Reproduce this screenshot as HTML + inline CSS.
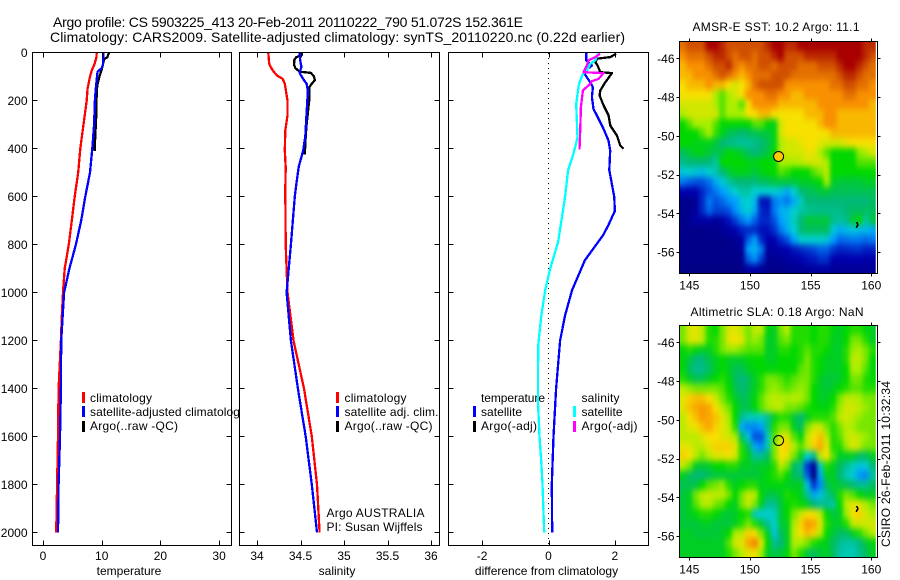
<!DOCTYPE html>
<html>
<head>
<meta charset="utf-8">
<title>Argo profile chart</title>
<style>
html,body{margin:0;padding:0;background:#fff;}
svg{display:block;}
text{font-family:"Liberation Sans",sans-serif;font-size:12px;fill:#000;}
.t14{font-size:14px;}
</style>
</head>
<body>
<svg id="chart" width="900" height="580" viewBox="0 0 900 580" xmlns="http://www.w3.org/2000/svg">
  <defs>
    <filter id="soften" x="-10%" y="-10%" width="120%" height="120%" color-interpolation-filters="sRGB">
      <feGaussianBlur stdDeviation="2.2 3.2"/>
    </filter>
  </defs>
  <rect x="0" y="0" width="900" height="580" fill="#fff"/>
  <text class="t14" x="53" y="27" textLength="470">Argo profile: CS 5903225_413 20-Feb-2011 20110222_790 51.072S 152.361E</text>
  <text class="t14" x="50" y="42" textLength="575">Climatology: CARS2009. Satellite-adjusted climatology: synTS_20110220.nc (0.22d earlier)</text>

  <g id="p1">
    <rect x="32.5" y="52.5" width="199" height="493" fill="#fff"/>
    <g id="p1marks"></g>
    <g>
      <rect x="82" y="392" width="3" height="11" fill="#f00"/>
      <text x="90" y="402" textLength="62">climatology</text>
      <rect x="82" y="406" width="3" height="11" fill="#00f"/>
      <text x="90" y="416" textLength="156">satellite-adjusted climatology</text>
      <rect x="82" y="421" width="3" height="11" fill="#000"/>
      <text x="90" y="430" textLength="88">Argo(..raw -QC)</text>
    </g>
    <g id="p1axis"></g>
    <text x="129" y="575" text-anchor="middle">temperature</text>
  </g>

  <g id="p2">
    <rect x="239.5" y="52.5" width="200" height="493" fill="#fff"/>
    <g id="p2marks"></g>
    <g>
      <rect x="336" y="392" width="3" height="11" fill="#f00"/>
      <text x="344.5" y="402" textLength="62">climatology</text>
      <rect x="336" y="406" width="3" height="11" fill="#00f"/>
      <text x="344.5" y="416" textLength="94">satellite adj. clim.</text>
      <rect x="336" y="421" width="3" height="11" fill="#000"/>
      <text x="344.5" y="430" textLength="88">Argo(..raw -QC)</text>
      <text x="326.5" y="517" textLength="98">Argo AUSTRALIA</text>
      <text x="326.5" y="531" textLength="96">PI: Susan Wijffels</text>
    </g>
    <g id="p2axis"></g>
    <text x="337" y="575" text-anchor="middle">salinity</text>
  </g>

  <g id="p3">
    <rect x="448.5" y="52.5" width="200" height="493" fill="#fff"/>
    <g>
      <text x="481" y="402" textLength="64">temperature</text>
      <rect x="473" y="406" width="3" height="11" fill="#00f"/>
      <text x="481" y="416" textLength="41">satellite</text>
      <rect x="473" y="421" width="3" height="11" fill="#000"/>
      <text x="481" y="430" textLength="56">Argo(-adj)</text>
      <text x="581.5" y="402" textLength="38">salinity</text>
      <rect x="573" y="406" width="3" height="11" fill="#0ff"/>
      <text x="581.5" y="416" textLength="41">satellite</text>
      <rect x="573" y="421" width="3" height="11" fill="#f0f"/>
      <text x="581.5" y="430" textLength="56">Argo(-adj)</text>
    </g>
    <g id="p3marks"></g>
    <g id="p3axis"></g>
    <text x="546.5" y="575" text-anchor="middle">difference from climatology</text>
  </g>

  <text x="776" y="31" text-anchor="middle" textLength="167">AMSR-E SST: 10.2 Argo: 11.1</text>
  <g id="m1"></g>
  <text x="777" y="316" text-anchor="middle" textLength="173">Altimetric SLA: 0.18 Argo: NaN</text>
  <g id="m2"></g>
  <text transform="translate(890,547) rotate(-90)" x="0" y="0" textLength="166">CSIRO 26-Feb-2011 10:32:34</text>
</svg>

<script>
// ---- shared ticks ----
var depthTicks = [0,200,400,600,800,1000,1200,1400,1600,1800,2000];
var tempTicks = [0,10,20,30];
var salTicks = [34,34.5,35,35.5,36];
var diffTicks = [-2,0,2];
var lonTicks = [145,150,155,160];
var latTicks = [-46,-48,-50,-52,-54,-56];

// ---- temperature panel ----
var tempClimDepth = [0,20,50,75,100,150,200,300,400,500,600,700,800,900,1000,1100,1200,1400,1600,1800,2000];
var tempClim = [9.15,9.1,8.75,8.3,8.0,7.6,7.45,6.9,6.35,6.0,5.4,4.9,4.4,3.7,3.4,3.2,3.05,2.65,2.55,2.4,2.25];
var tempSatDepth = [0,20,50,65,80,100,150,200,300,400,500,600,700,800,900,1000,1200,1400,1600,1800,2000];
var tempSat = [10.3,10.25,10.2,10,9.3,9.2,9,8.85,8.7,8.4,8,7.2,6.5,5.6,4.5,3.6,3.1,3.05,2.9,2.65,2.55];
var tempArgoDepth = [0,20,25,30,50,75,100,130,160,250,300,400,410];
var tempArgo = [11.25,10.95,10.6,10.4,10.2,9.95,9.6,9.3,9.15,9.1,9,8.8,8.8];

// ---- salinity panel ----
var salClimDepth = [0,48,75,96,110,130,200,262,325,408,478,575,800,1000,1200,1400,1600,1800,2000];
var salClim = [34.13,34.14,34.18,34.23,34.295,34.32,34.35,34.35,34.325,34.32,34.33,34.325,34.33,34.35,34.42,34.54,34.63,34.69,34.72];
var salSatDepth = [0,30,60,85,110,130,160,250,350,410,475,540,600,800,1000,1200,1400,1600,1800,2000];
var salSat = [34.49,34.495,34.51,34.49,34.53,34.57,34.585,34.57,34.555,34.53,34.48,34.455,34.435,34.39,34.34,34.39,34.47,34.56,34.63,34.69];
var salArgoDepth = [0,10,20,30,50,65,80,85,100,115,130,145,200,250,300,350,425];
var salArgo = [34.52,34.515,34.45,34.43,34.425,34.44,34.49,34.62,34.655,34.665,34.63,34.6,34.6,34.585,34.57,34.56,34.55];

// ---- difference panel ----
var diffTempSatDepth = [0,33,54,82,124,144,186,235,276,318,367,408,490,600,660,720,760,865,990,1095,1200,1400,1600,1800,2000];
var diffTempSat = [1.135,1.135,1.306,1.055,1.256,1.336,1.306,1.356,1.507,1.657,1.808,1.858,1.83,1.98,2.0,1.8,1.65,1.1,0.71,0.5,0.35,0.23,0.15,0.1,0.11];
var diffTempArgoDepth = [5,19,26,40,54,82,86,124,158,179,221,262,304,346,387,401];
var diffTempArgo = [2.04,1.86,1.46,1.41,1.48,1.56,1.91,1.71,1.56,1.54,1.66,1.81,1.86,2.06,2.16,2.26];
var diffSalSatDepth = [3,33,47,75,89,124,144,214,290,353,394,443,490,600,790,900,990,1100,1220,1450,1600,1700,1800,2000];
var diffSalSat = [1.507,1.407,1.256,1.156,1.035,0.935,0.905,0.834,0.854,0.875,0.804,0.704,0.59,0.5,0.29,0.05,-0.1,-0.22,-0.31,-0.32,-0.27,-0.22,-0.18,-0.13];
var diffSalArgoDepth = [5,19,33,54,82,86,110,119,131,158,228,325,405];
var diffSalArgo = [1.557,1.407,1.206,1.156,1.055,1.657,1.507,1.306,1.256,1.035,0.975,0.955,0.935];

// ---- maps: values on a 0..11 colour-level scale, north to south, west to east ----
var sstValues = [
[9.5,10,10,10,11,11,10.5,10,10,10,10,10,10,10.5,11,11,10.5,10.5,11,11,11,11,11,11,11,11,11,11,10.5,10.5],
[9,9.5,9.5,9.5,10,10.5,10.5,10,9.5,10,10,9.5,10,10,10.5,11,10,10,10,10.5,10.5,10.5,10.5,10.5,11,11,11,11,10.5,10],
[8.5,9,9,9,9.5,10,10,10.5,9.5,9,9.5,9.5,10,10,9.5,10,10,10,9.5,9.5,9.5,10,10,10,10.5,11,11,10.5,10,9.5],
[8.5,8.5,9,9,9,9.5,10,9.5,9,8.5,9,9.5,9.5,9.5,10,10,10,9.5,9.5,9.5,9.5,9.5,9.5,9.5,10,10.5,10.5,10,9.5,9.5],
[8,8.5,8.5,8.5,9,8.5,8.5,8,7.5,8,8.5,9.5,10,10,10,10,9,9,9,9,9,9,9,9.5,9.5,10,10,9.5,9.5,9],
[8,8,8,8,8,7,6.5,7,7.5,8,9,9,9,9.5,9.5,9,9,8.5,8.5,9,9,9,9,9,9,9.5,9.5,9,9,9],
[7.5,7.5,7.5,7.5,7.5,7,6.5,7,7,6.5,8,9,9,9,9,8.5,8.5,8.5,8.5,8.5,8.5,9,9,9,9,9,9,9,9,8.5],
[7,7.5,7.5,7.5,7.5,7.5,6.5,7,7,7,8,8,8.5,8.5,8,8,8,8,8,8.5,8.5,8.5,9,9,8.5,8.5,8.5,8.5,8.5,8.5],
[6,6.5,7,7,7,6.5,6,6,6,6,6,6.5,6.5,6,5.8,7.5,8,8,8,8,8,8.5,9,9,8.5,8.5,8.5,8.5,8.5,8.5],
[6,6,6,6.5,7,6.3,5.8,5.3,5.2,5,5.2,5.3,5.5,5.5,5.8,7.5,8,8,8,8,8,8,8,8.5,8.5,8.5,8.5,8.5,8.5,8.5],
[6,6,5.8,5.8,5.8,5.5,5,4.8,4.7,4.6,4.6,4.8,5,5.3,5.8,7,7.5,7.5,7.8,8,8,7.7,7.5,7.5,7.5,7.8,8,8,8,8],
[5.2,5.5,5.8,5.8,5.5,5.3,5.5,6,5.8,5.6,5.2,5,5.2,5.5,6,7.2,7.5,7.5,7.5,7.8,7.8,7,6.5,6,6,6,6,6.8,7,7.5],
[4.8,5,5,5,5,4.5,6,6,6,6,5.8,5.8,6,6,6,7,7,7,7.2,7.5,7.5,7.5,7,6,6,6,6,6.5,6.5,6.5],
[3.8,4,3.8,3.6,4,4.4,5,5.5,5.8,5.8,5.8,5.5,5.8,6,6,6.5,6.3,6,6,6,6.5,6.8,7.2,6,6,6,6,6,6,6],
[2.5,2.2,2,2,2.4,3.2,3.8,4.5,5,5,5,5,5.2,5.2,5.5,5.5,5.5,5.5,5.7,5.7,5.8,6,7,5.7,5.5,5.5,5.5,5.5,5.7,5.7],
[1,1,1,1.5,2,2.5,3,3.5,4,4.5,4.5,4,4,4,4,3.7,3.2,4,5,5.2,5.3,5.5,5.6,5.3,5.3,5.3,5.3,5.3,5.3,5.3],
[0.3,0.3,0.5,1.5,2.5,2,2.3,2.8,3,3.8,4,3.5,1.2,1.2,2.5,2.8,2.5,3.2,4.2,5,5,5,5,5,5,5,5,5,5,5.2],
[0.3,0.3,0.5,1.5,2.3,1.8,1.8,2,2.8,3.5,4,3.2,1.5,1.3,2.5,3.3,3.5,4,4.5,4.6,4.8,4.8,4.8,4.8,4.8,5,5.2,5.2,5.2,5.2],
[0.2,0.5,0.8,0.8,0.8,0.5,0.8,1.2,1.8,2.5,3,2.2,1.5,1.5,2,3,3.5,4.2,5,5.5,5.5,5.5,5.5,4.8,4.6,4.8,5.5,6,4.5,5.5],
[0.2,0.2,0.2,0.2,0.2,0.3,0.5,0.6,1,1.4,1.5,1.5,1.2,1.2,1.6,2.5,3.2,4,5,5.2,5.2,5.2,5.2,3.8,3.3,3.5,3.8,3.5,3.5,3.2],
[0.2,0.2,0.2,0.2,0.2,0.2,0.2,0.3,0.4,0.7,2.2,3,1.5,0.9,1,1.5,2,3,4,4,4,4,3.8,3,2.3,2.4,2.5,2.5,2.3,2.5],
[0.2,0.2,0.2,0.2,0.2,0.2,0.2,0.2,0.3,0.5,3,3.4,2.6,0.6,0.7,0.8,1,1.3,1.5,1.7,1.9,2.2,2.2,1.7,1.4,1.5,1.6,1.6,1.4,1.4],
[0.2,0.2,0.2,0.2,0.2,0.2,0.2,0.2,0.2,0.3,2.2,2.8,1.8,0.4,0.4,0.5,0.7,0.8,1,1.2,1.3,1.6,1.6,1,0.9,0.9,1,1,0.9,0.9],
[0.1,0.1,0.1,0.1,0.1,0.1,0.1,0.1,0.1,0.2,0.6,0.8,0.5,0.2,0.2,0.2,0.3,0.4,0.5,0.5,0.6,0.7,0.7,0.5,0.5,0.5,0.5,0.5,0.5,0.5]
];
var slaValues = [
[6.7,7.5,7.7,7.2,6.2,6,6.7,7.5,7.7,7.2,6.7,7.2,7.2,5.9,5.7,6.7,7.2,6.2,6.2,6.2,6,6.2,6.2,5.9,5.7,6,6.2,6.2,5.9,5.7],
[6.7,7.5,7.7,7.2,6.2,6.2,6.7,7.7,8,7.7,6.7,6.9,6.7,5.7,5.7,6.5,6.7,6.2,6.2,6.2,6,6.2,6.2,5.7,5.7,6,6.7,6.7,6.2,5.7],
[5.9,6.2,5.9,5.7,5.7,6.2,6.7,6.9,6.9,6.7,6.5,6.5,6.5,5.7,5.7,6.2,6.2,6,6.2,6.5,6.2,6.2,6,5.7,5.7,6.2,6.9,7,6.7,6.2],
[5.9,5.5,5,4.9,5.4,5.7,6,5.7,5.7,5.7,5.9,6,6,5.7,5.7,6,6,6,6.2,6.7,6.2,6,5.7,5.7,5.7,6.2,7.2,7.2,6.7,6],
[6,5.2,4.8,4.8,5.2,5.7,6,5.7,5.3,5.3,5.7,5.9,6,5.9,5.9,6,6,6,6.5,6.7,6.2,6,5.7,5.7,5.7,6,7,7,6.5,5.9],
[6.2,5.7,5.3,5.3,5.7,6,6.2,5.9,5.2,4.9,5.2,5.7,6.2,6.7,6.7,6.5,6.2,6.5,6.7,6.7,6.2,5.7,5.5,5.5,5.7,6,6.7,6.7,6.2,6],
[7.2,6.9,6.7,6.7,6.7,6.7,6.5,6,5.4,5,5.3,5.7,6.2,6.7,6.9,6.7,6.5,6.7,6.9,6.7,6,5.7,5.5,5.7,6,6.2,6.5,6.5,6.2,6.2],
[7.7,8.2,8.4,8.4,8,7.4,6.7,6.2,5.7,5.2,5.4,5.9,6.5,7,7.2,7.2,7,7.2,7,6.7,6,5.7,5.7,6,6.7,7.2,7.2,7,6.7,6.7],
[7.7,8.4,8.7,8.9,8.7,8,7.2,6.7,6,5.4,5.4,5.9,6.5,6.9,7.2,7.2,6.7,6.7,6.5,6.2,6,5.9,5.9,6.2,6.9,7.5,7.5,7.2,6.9,6.7],
[7.2,8,8.4,8.9,8.7,8.4,7.7,7,6,4.7,4.2,4.2,4.2,4.7,5.7,6.2,6.2,5.5,5,5.7,6.2,6.2,6.2,6.5,7.2,7.5,7.2,6.9,6.7,6.7],
[7.2,7.7,7.9,8.4,8.7,8.2,7.7,7.2,6.2,3.2,2.7,2.7,3,4.7,6.2,6.7,6.7,5.7,5.2,6.7,7.4,7.5,6.7,6.2,6.7,7.2,7,6.7,6.7,6.7],
[7.2,7.2,7.2,7.7,8,8,7.7,7.5,7,5.2,3.7,2,2,4.2,6.5,7.5,7.7,6.5,5.9,7.2,8,8.4,7.2,6.2,6.5,7.2,7.5,7.2,6.9,6.7],
[7.7,7.7,7.2,7.2,7.7,8.2,8.2,8.2,7.7,6.2,5.2,3.2,2.7,4.4,6.7,8,8.2,7.2,6.5,7.2,8.2,8.7,7.7,6.2,6.2,6.9,7.7,7.2,6.7,6.7],
[8.2,8,7.2,6.7,7.2,7.7,7.7,7.9,7.5,6.2,5.7,4.7,4.7,5.2,6.7,8,7.7,6.7,5.7,4,4.7,7.2,8,6.5,5.7,5.7,5.7,5.2,5.2,5.7],
[7.2,6.7,5.7,5.5,5.7,6,6,6.2,6.2,5.7,5.7,5.5,5.7,5.7,6.2,7.2,6.7,5.2,4.7,1.7,0.7,4.2,6.2,5.7,5.2,4.7,4.2,3.7,3.9,5],
[5.7,5.3,5,5,5.2,5.5,5.5,5.5,5.5,5.5,5.5,5.5,5.7,5.9,6.2,6.5,6,5.2,5,2.2,0,3.2,5.7,5.7,5,4.3,3.9,2.9,2.7,4.5],
[5.3,5.3,5.4,6,6.5,6.7,6.9,6.2,5.7,6,6.2,6.2,5.7,5.9,5.9,5.9,5.7,5.7,5.7,3.7,1.7,2.7,5.2,5.7,5.5,5.3,5,4.7,4.7,5.2],
[5.5,5.7,6.7,7.2,7.4,7.2,7.2,6.7,6,6.7,7.4,7.2,6,5.4,5.4,5.7,6.2,6,5.7,4.7,3.2,3.7,4.7,5.3,6.2,6.7,6.5,6,5.7,5.7],
[5.5,5.7,6.5,7,7.2,6.7,6.5,6,5.7,6.7,7.4,6.7,5.7,4.7,4.7,5.5,6,6.2,6,5.7,5,4.7,4.7,4.5,6,7.2,7.7,7.7,7,6.7],
[5.5,5.7,5.9,6.2,6.2,6,5.7,5.5,5.7,6,6.2,4.3,3.9,4,4.2,5.5,6,6.7,7.4,8,8,7.2,6,5.5,5.7,6.9,7.9,8.2,7.5,7],
[5.5,5.5,5.5,5.7,5.7,5.5,5.5,5.5,5.7,6.2,6.7,6.2,5.5,4.7,4,5.5,5.7,7,8.2,8.9,8.7,7.7,6.2,5.7,5.7,6.2,7.2,7.5,7.5,7.5],
[5.7,5.7,5.5,5.5,5.5,5.5,5.7,6,7,7.2,8.2,8,6.7,5.7,3.7,5.2,5.7,7.2,8,8.5,8.2,7.2,6,5.5,5.2,5.2,5.7,6.2,6.7,7.2],
[5.7,5.7,5.7,5.7,5.7,5.7,5.7,6.5,7.5,7.7,8.7,9.2,7.7,6,4.7,5,5.7,7,7,6.7,6.2,5.9,5.7,5.2,4.7,4.5,4.5,4.9,5.5,5.9],
[5.7,5.7,5.7,5.7,5.7,5.7,5.7,6.2,6.7,7.2,7.7,7.9,6.9,5.7,5.4,5.5,5.9,6.7,6.2,5.5,5.2,5.5,5.7,5.2,4.5,4.3,4.3,4.7,5.2,5.7]
];
var trackLon = [158.75,158.9,158.8];
var trackLat = [-54.75,-54.6,-54.45];
var profileLon = [152.361];
var profileLat = [-51.072];

var NS = 'http://www.w3.org/2000/svg';
function make(parent, tag, attrs, txt) {
  var el = document.createElementNS(NS, tag);
  for (var k in attrs) el.setAttribute(k, attrs[k]);
  if (txt !== undefined) el.textContent = txt;
  parent.appendChild(el);
  return el;
}
var TOP = 52.5, BOT = 545.5;
function yDepth(d) { return 52.5 + 0.24 * d; }
function linear(v0, px0, scale) { return function (v) { return px0 + (v - v0) * scale; }; }
var xTemp = linear(0, 43, 5.87);
var xSal = linear(34, 257, 87);
var xDiff = linear(0, 548.5, 33.2);

function series(group, depths, vals, xf, color, name) {
  var pts = [];
  for (var i = 0; i < vals.length; i++) pts.push(xf(vals[i]).toFixed(1) + ',' + yDepth(depths[i]).toFixed(1));
  var line = make(group, 'polyline', {points: pts.join(' '), fill: 'none', stroke: color, 'stroke-width': 2.3, 'shape-rendering': 'crispEdges', 'stroke-linejoin': 'round'});
  
  
}
function axes(group, left, right, xf, ticks, showDepthLabels) {
  var frame = make(group, 'rect', {x: left, y: TOP, width: right - left, height: BOT - TOP, fill: 'none', stroke: '#000', 'stroke-width': 1, 'shape-rendering': 'crispEdges'});
  
  
  ticks.forEach(function (t) {
    var x = Math.round(xf(t)) + 0.5;
    var tk = make(group, 'path', {d: 'M' + x + ' ' + TOP + 'v5M' + x + ' ' + BOT + 'v-5', stroke: '#000', 'stroke-width': 1, fill: 'none', 'shape-rendering': 'crispEdges'});
    
    
    var lb = make(group, 'text', {x: xf(t), y: 560, 'text-anchor': 'middle'}, String(t));
    
    
  });
  depthTicks.forEach(function (d) {
    var y = Math.round(yDepth(d) - 0.5) + 0.5;
    var tk = make(group, 'path', {d: 'M' + left + ' ' + y + 'h5M' + right + ' ' + y + 'h-5', stroke: '#000', 'stroke-width': 1, fill: 'none', 'shape-rendering': 'crispEdges'});
    
    
    if (showDepthLabels) {
      var lb = make(group, 'text', {x: 27.5, y: yDepth(d) + 4.5, 'text-anchor': 'end'}, String(d));
      
      
    }
  });
}

var g1 = document.getElementById('p1marks');
series(g1, tempArgoDepth, tempArgo, xTemp, '#000', 'temperature-argo-line');
series(g1, tempClimDepth, tempClim, xTemp, '#f00', 'temperature-climatology-line');
series(g1, tempSatDepth, tempSat, xTemp, '#00f', 'temperature-satellite-line');
axes(document.getElementById('p1axis'), 32.5, 231.5, xTemp, tempTicks, true);

var g2 = document.getElementById('p2marks');
series(g2, salArgoDepth, salArgo, xSal, '#000', 'salinity-argo-line');
series(g2, salClimDepth, salClim, xSal, '#f00', 'salinity-climatology-line');
series(g2, salSatDepth, salSat, xSal, '#00f', 'salinity-satellite-line');
axes(document.getElementById('p2axis'), 239.5, 439.5, xSal, salTicks, false);

var g3 = document.getElementById('p3marks');
var zero = make(g3, 'line', {x1: xDiff(0), x2: xDiff(0), y1: 53, y2: BOT, stroke: '#000', 'stroke-width': 1, 'stroke-dasharray': '1 4', 'shape-rendering': 'crispEdges'});


series(g3, diffTempSatDepth, diffTempSat, xDiff, '#00f', 'temperature-satellite-difference-line');
series(g3, diffTempArgoDepth, diffTempArgo, xDiff, '#000', 'temperature-argo-difference-line');
series(g3, diffSalSatDepth, diffSalSat, xDiff, '#0ff', 'salinity-satellite-difference-line');
series(g3, diffSalArgoDepth, diffSalArgo, xDiff, '#f0f', 'salinity-argo-difference-line');
axes(document.getElementById('p3axis'), 448.5, 648.5, xDiff, diffTicks, false);

// ---- colour ramp ----
var rampStops = [[0,0,128],[0,0,176],[0,80,224],[0,160,255],[0,208,208],[0,184,120],[0,216,0],[170,238,0],[248,224,0],[248,144,0],[208,80,0],[168,0,0]];
function levelColor(v) {
  var a = Math.max(0, Math.min(10.999, v));
  var i = Math.floor(a), f = a - i;
  var c0 = rampStops[i], c1 = rampStops[i + 1];
  return 'rgb(' + [0, 1, 2].map(function (k) { return Math.round(c0[k] + (c1[k] - c0[k]) * f); }).join(',') + ')';
}

function drawMap(groupId, values, frameTop, lat46Y, markerFill, prefix) {
  var g = document.getElementById(groupId);
  var frameLeft = 679.5, frameRight = 877.5, frameH = 232;
  var xLon = linear(145, 689.3, 12.13);
  var yLat = linear(-46, lat46Y, -19.37);
  var lonW = 144.2, lonE = 160.37;
  var latN = -46 + (lat46Y - frameTop) / 19.37, latS = latN - frameH / 19.37;
  var rows = values.length, cols = values[0].length;
  var clipId = prefix + '-clip';
  var clip = make(g, 'clipPath', {id: clipId});
  make(clip, 'rect', {x: xLon(lonW), y: frameTop, width: xLon(lonE) - xLon(lonW), height: frameH});
  var clipper = make(g, 'g', {'clip-path': 'url(#' + clipId + ')'});
  
  
  var cells = make(clipper, 'g', {filter: 'url(#soften)', 'shape-rendering': 'crispEdges'});
  
  
  values.forEach(function (row, j) {
    row.forEach(function (v, i) {
      var x0 = xLon(lonW + (lonE - lonW) * i / cols), x1 = xLon(lonW + (lonE - lonW) * (i + 1) / cols);
      var y0 = yLat(latN + (latS - latN) * j / rows), y1 = yLat(latN + (latS - latN) * (j + 1) / rows);
      if (i === 0) x0 -= 14;
      if (i === cols - 1) x1 += 14;
      if (j === 0) y0 -= 14;
      if (j === rows - 1) y1 += 14;
      var r = make(cells, 'rect', {x: x0.toFixed(1), y: y0.toFixed(1), width: (x1 - x0 + 0.6).toFixed(1), height: (y1 - y0 + 0.6).toFixed(1), fill: levelColor(v)});
      
      
    });
  });
  var frame = make(g, 'rect', {x: frameLeft, y: frameTop, width: frameRight - frameLeft, height: frameH, fill: 'none', stroke: '#000', 'stroke-width': 1, 'shape-rendering': 'crispEdges'});
  
  
  lonTicks.forEach(function (t) {
    var x = Math.round(xLon(t)) + 0.5;
    var tk = make(g, 'path', {d: 'M' + x + ' ' + frameTop + 'v-3M' + x + ' ' + (frameTop + frameH) + 'v3', stroke: '#000', fill: 'none', 'shape-rendering': 'crispEdges'});
    
    
    var lb = make(g, 'text', {x: xLon(t), y: frameTop + frameH + 16, 'text-anchor': 'middle'}, String(t));
    
    
  });
  latTicks.forEach(function (t) {
    var y = Math.round(yLat(t)) + 0.5;
    var tk = make(g, 'path', {d: 'M' + frameLeft + ' ' + y + 'h-3M' + frameRight + ' ' + y + 'h3', stroke: '#000', fill: 'none', 'shape-rendering': 'crispEdges'});
    
    
    var lb = make(g, 'text', {x: 674.5, y: yLat(t) + 4.5, 'text-anchor': 'end'}, String(t));
    
    
  });
  var pts = trackLon.map(function (lo, i) { return xLon(lo).toFixed(1) + ',' + yLat(trackLat[i]).toFixed(1); }).join(' ');
  var tr = make(g, 'polyline', {points: pts, fill: 'none', stroke: '#000', 'stroke-width': 1.6, 'shape-rendering': 'crispEdges'});
  
  
  var c = make(g, 'circle', {cx: xLon(profileLon[0]).toFixed(1), cy: yLat(profileLat[0]).toFixed(1), r: 5, fill: markerFill, stroke: '#000', 'stroke-width': 1});
  
  
}
drawMap('m1', sstValues, 41.5, 58.3, '#ffc800', 'sst-map');
drawMap('m2', slaValues, 325.5, 342.3, 'none', 'sla-map');
</script>
</body>
</html>
